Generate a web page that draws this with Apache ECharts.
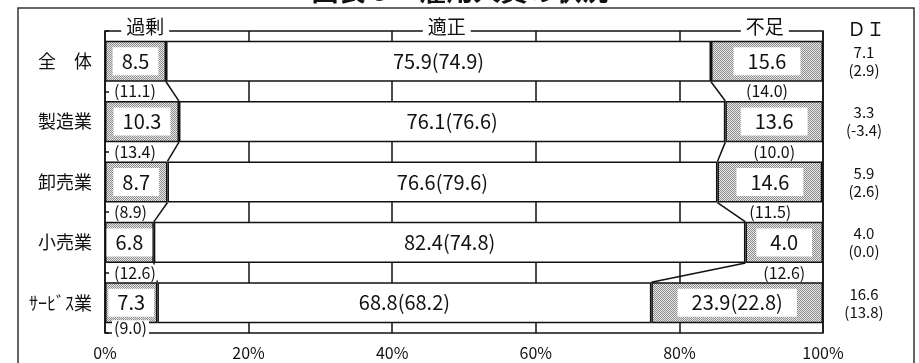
<!DOCTYPE html>
<html>
<head>
<meta charset="utf-8">
<script src="https://cdn.jsdelivr.net/npm/echarts@6/dist/echarts.min.js"></script>
<style>
  html, body { margin: 0; padding: 0; background: #fff; }
  #chart { width: 919px; height: 363px; }
</style>
</head>
<body>
<div id="chart"></div>
<script>
// 業種
var industries = ['全　体', '製造業', '卸売業', '小売業', 'ｻｰﾋﾞｽ業'];
// 今回（%）
var surplusNow = [8.5, 10.3, 8.7, 6.8, 7.3];
var properNow = [75.9, 76.1, 76.6, 82.4, 68.8];
var shortageNow = [15.6, 13.6, 14.6, 10.8, 23.9];
// 前回（%）
var surplusPrev = [11.1, 13.4, 8.9, 12.6, 9.0];
var properPrev = [74.9, 76.6, 79.6, 74.8, 68.2];
var shortagePrev = [14.0, 10.0, 11.5, 12.6, 22.8];
// 不足のラベル（原図の表記のまま）
var shortageLabels = ['15.6', '13.6', '14.6', '4.0', '23.9(22.8)'];
// DI（不足−過剰）
var diNow = [7.1, 3.3, 5.9, 4.0, 16.6];
var diPrev = [2.9, -3.4, 2.6, 0.0, 13.8];
var xTicks = [0, 20, 40, 60, 80, 100];

var FONT = '"Noto Sans CJK JP", "Noto Sans", sans-serif';
var BAR_RATIO = 0.68;

// 網掛け用のパターン
var tile = document.createElement('canvas');
tile.width = 2;
tile.height = 2;
var g = tile.getContext('2d');
g.fillStyle = '#e8e8e8';
g.fillRect(0, 0, 2, 2);
g.fillStyle = '#8c8c8c';
g.fillRect(0, 0, 1, 1);
g.fillRect(1, 1, 1, 1);
var dotted = {image: tile, repeat: 'repeat'};

var chart = echarts.init(document.getElementById('chart'));

// 区分線の位置
var cutA = surplusNow.slice();
var cutB = surplusNow.map(function (v, i) { return v + properNow[i]; });

function fmt(v) {
  return v.toFixed(1);
}

var option = {
  animation: false,
  backgroundColor: '#fff',
  textStyle: {fontFamily: FONT, color: '#111'},
  grid: {
    left: 105, right: 96, top: 31, bottom: 30,
    show: true, borderColor: '#111', borderWidth: 1.5, backgroundColor: 'transparent'
  },
  xAxis: {
    type: 'value',
    min: xTicks[0],
    max: xTicks[xTicks.length - 1],
    interval: xTicks[1] - xTicks[0],
    axisLine: {show: false},
    axisTick: {show: false},
    splitLine: {lineStyle: {color: '#111', width: 1.5}},
    axisLabel: {
      formatter: '{value}%', fontSize: 16, color: '#111', margin: 12, fontFamily: FONT
    }
  },
  yAxis: [
    {
      type: 'category',
      data: industries,
      inverse: true,
      axisLine: {show: false},
      axisTick: {show: true, inside: true, length: 4, lineStyle: {color: '#111', width: 1.5}},
      axisLabel: {fontSize: 18, color: '#111', margin: 13, fontFamily: FONT}
    },
    {
      type: 'category',
      data: industries,
      inverse: true,
      position: 'right',
      axisLine: {show: false},
      axisTick: {show: false},
      axisLabel: {
        align: 'center',
        margin: 41,
        fontSize: 15,
        lineHeight: 18,
        color: '#111',
        fontFamily: FONT,
        formatter: function (v, i) {
          return fmt(diNow[i]) + '\n(' + fmt(diPrev[i]) + ')';
        }
      }
    }
  ],
  series: [
    {
      name: '過剰',
      type: 'bar',
      stack: 'all',
      barWidth: (BAR_RATIO * 100) + '%',
      data: surplusNow,
      itemStyle: {color: dotted, borderColor: '#111', borderWidth: 1.5},
      label: {
        show: true, position: 'inside', fontSize: 20, color: '#111', fontFamily: FONT,
        backgroundColor: '#fff', padding: [4, 9],
        formatter: function (p) { return fmt(p.value); }
      }
    },
    {
      name: '適正',
      type: 'bar',
      stack: 'all',
      data: properNow,
      itemStyle: {color: '#fff', borderColor: '#111', borderWidth: 1.5},
      label: {
        show: true, position: 'inside', fontSize: 20, color: '#111', fontFamily: FONT,
        formatter: function (p) { return fmt(p.value) + '(' + fmt(properPrev[p.dataIndex]) + ')'; }
      }
    },
    {
      name: '不足',
      type: 'bar',
      stack: 'all',
      data: shortageNow,
      itemStyle: {color: dotted, borderColor: '#111', borderWidth: 1.5},
      label: {
        show: true, position: 'inside', fontSize: 20, color: '#111', fontFamily: FONT,
        backgroundColor: '#fff', padding: [4, 14],
        formatter: function (p) { return shortageLabels[p.dataIndex]; }
      }
    },
    {
      // 区分線と前回値
      type: 'custom',
      z: 10,
      data: industries.map(function (n, i) { return [0, i]; }),
      encode: {x: 0, y: 1},
      renderItem: function (params, api) {
        var i = params.dataIndex;
        var last = i === industries.length - 1;
        var band = api.size([0, 1])[1];
        var half = band * BAR_RATIO / 2;
        var gap = band - 2 * half;
        var c = api.coord([0, i]);
        var yBottom = c[1] + half;
        var yText = yBottom + (last ? gap / 4 : gap / 2);
        var kids = [];
        if (!last) {
          [cutA, cutB].forEach(function (cut) {
            var a = api.coord([cut[i], i]);
            var b = api.coord([cut[i + 1], i + 1]);
            kids.push({
              type: 'line',
              shape: {x1: a[0], y1: a[1] + half, x2: b[0], y2: b[1] - half},
              style: {stroke: '#111', lineWidth: 1.5}
            });
          });
          var r = api.coord([(cutB[i] + 100) / 2, i]);
          kids.push({
            type: 'text',
            style: {
              text: '(' + fmt(shortagePrev[i]) + ')', x: r[0], y: yText,
              align: 'center', verticalAlign: 'middle',
              font: '16px ' + FONT, fill: '#111'
            }
          });
        }
        kids.push({
          type: 'text',
          style: {
            text: '(' + fmt(surplusPrev[i]) + ')', x: c[0] + 7, y: yText,
            align: 'left', verticalAlign: 'middle',
            font: '16px ' + FONT, fill: '#111',
            backgroundColor: '#fff', padding: [0, 2]
          }
        });
        return {type: 'group', children: kids};
      }
    }
  ]
};
chart.setOption(option);

// 見出し・外枠
var yHead = 27;
function px(v) {
  return chart.convertToPixel({xAxisIndex: 0}, v);
}
function head(text, v) {
  return {
    type: 'text', x: px(v), y: yHead, z: 20,
    style: {
      text: text, font: '19px ' + FONT, fill: '#111',
      align: 'center', verticalAlign: 'middle',
      backgroundColor: '#fff', padding: [0, 5]
    }
  };
}
chart.setOption({
  graphic: [
    {
      type: 'rect', z: 0, silent: true,
      shape: {x: 18, y: 8, width: 896, height: 380},
      style: {fill: 'none', stroke: '#333', lineWidth: 1.5}
    },
    {
      type: 'text', x: 460, y: 4, z: 20,
      style: {
        text: '図表６　雇用人員の状況', font: 'bold 27px ' + FONT, fill: '#111',
        align: 'center', verticalAlign: 'bottom'
      }
    },
    head('過剰', 5.6),
    head('適正', 47.6),
    head('不足', 91.9),
    {
      type: 'text', x: 866, y: 29, z: 20,
      style: {text: 'ＤＩ', font: '19px ' + FONT, fill: '#111', align: 'center', verticalAlign: 'middle'}
    }
  ]
});
</script>
</body>
</html>
